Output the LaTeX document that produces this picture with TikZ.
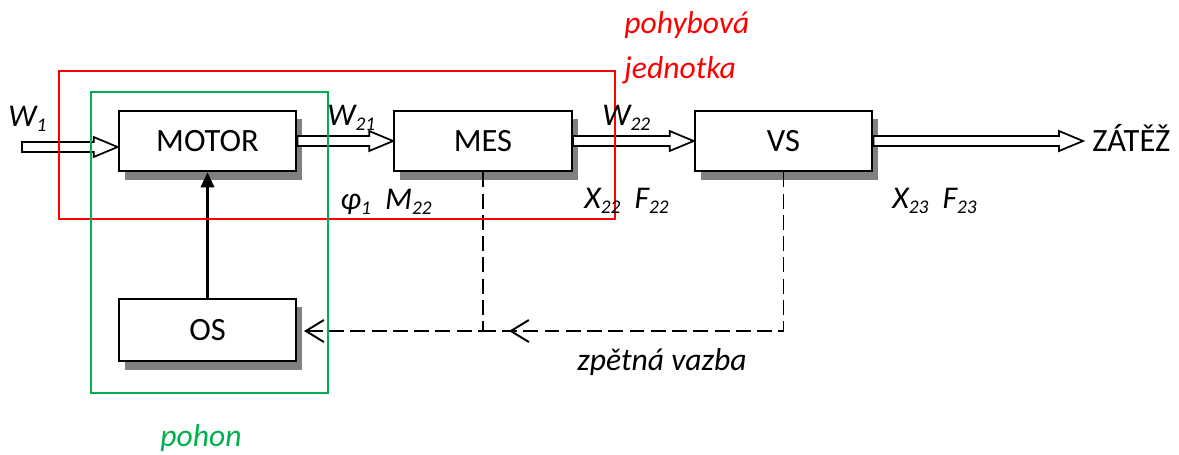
\documentclass[tikz,border=0pt]{standalone}
\usepackage{fontspec}
\setmainfont{Carlito}
\usetikzlibrary{arrows.meta,calc,shadows}
\definecolor{myred}{RGB}{255,0,0}
\definecolor{mygreen}{RGB}{0,176,80}
\definecolor{shadowgray}{RGB}{128,128,128}
\newcommand\sub[1]{\raisebox{-0.35ex}{\fontsize{11}{11}\selectfont #1}}
\newcommand\fatarrow[2]{\draw[fatline] let \p1=(#1), \p2=(#2) in
  (\x1,\y1+0.1cm) -- (\x2-0.48cm,\y1+0.1cm) -- (\x2-0.48cm,\y1+0.2cm) -- (\x2,\y1)
  -- (\x2-0.48cm,\y1-0.2cm) -- (\x2-0.48cm,\y1-0.1cm) -- (\x1,\y1-0.1cm) -- cycle;}
\begin{document}
\begin{tikzpicture}[x=0.02cm,y=-0.02cm,
  block/.style={draw=black,line width=1.3pt,fill=white,minimum width=3.55cm,minimum height=1.21cm,
    inner sep=0pt,font=\fontsize{18.5}{22}\selectfont,
    drop shadow={shadow xshift=0.12cm,shadow yshift=-0.17cm,fill=shadowgray,opacity=1}},
  fatline/.style={draw=black,line width=1.0pt,fill=white,line join=miter},
  lbl/.style={anchor=base west,inner sep=0pt,font=\fontsize{18}{21}\selectfont\itshape},
  fbline/.style={draw=black,line width=1.1pt,dash pattern=on 8.5pt off 3.6pt},
  barb/.style={line width=1.1pt,-{Straight Barb[length=0.36cm,width=0.44cm]}},
  frame/.style={line width=1.2pt}]
\useasboundingbox (0,0) rectangle (1179,454);
% blocks
\node[block] (motor) at (207.5,141) {MOTOR};
\node[block] (mes) at (483,141) {MES};
\node[block] (vs) at (783.5,141) {VS};
\node[block,minimum height=1.25cm] (os) at (207.5,330) {OS};
\node[anchor=base west,inner sep=0pt,font=\fontsize{18.5}{22}\selectfont] (zat) at (1092,151) {ZÁTĚŽ};
% fat arrows
\coordinate (w1s) at (22,147);
\fatarrow{w1s}{motor.west |- w1s}
\fatarrow{motor.east}{mes.west}
\fatarrow{mes.east}{vs.west}
\coordinate (zattip) at (1083,140);
\fatarrow{vs.east}{zattip}
% control arrow
\draw[line width=1.2pt,-{Triangle[length=0.3cm,width=0.27cm]}] (os.north) -- (motor.south);
% feedback
\coordinate (fbj) at (mes.south |- 0,331);
\coordinate (fbr) at (vs.south |- 0,331);
\coordinate (ostip) at (304,331);
\coordinate (midtip) at (509,331);
\draw[fbline] (mes.south) -- (fbj) -- (ostip);
\draw[barb] ($(ostip)+(2,0)$) -- (ostip);
\draw[fbline] (vs.south) -- (fbr) -- (fbj);
\draw[barb] ($(midtip)+(2,0)$) -- (midtip);
% frames
\draw[frame,myred] (59,71) rectangle (615,219);
\draw[frame,mygreen] (91,92) rectangle (328,393);
% labels
\node[lbl] (lw1) at (8,126) {W\sub{1}};
\node[lbl] (lw21) at (327,125) {W\sub{21}};
\node[lbl] (lw22) at (602,125) {W\sub{22}};
\node[lbl] (lphi) at (340,209) {φ\sub{1}\ \ M\sub{22}};
\node[lbl] (lx22) at (584,208) {X\sub{22}\ \ F\sub{22}};
\node[lbl] (lx23) at (892,208) {X\sub{23}\ \ F\sub{23}};
\node[lbl] (lfb) at (577,370) {zpětná vazba};
\node[lbl,text=myred] (lpoh) at (624,33) {pohybová};
\node[lbl,text=myred] (ljed) at (624,78) {jednotka};
\node[lbl,text=mygreen] (lpohon) at (160,446) {pohon};
\end{tikzpicture}
\end{document}
